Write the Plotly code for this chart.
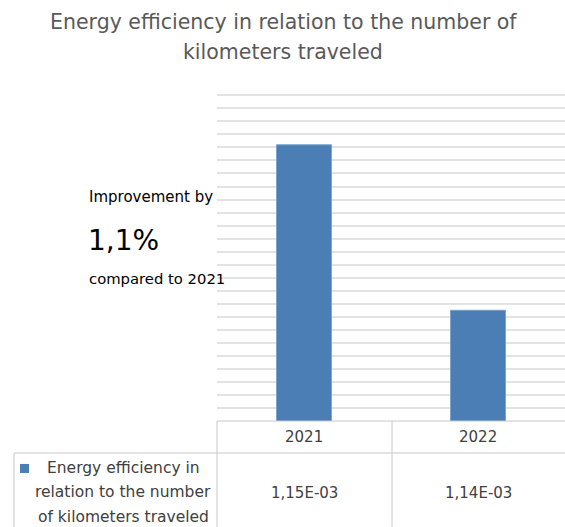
import plotly.graph_objects as go

# Data
years = ["2021", "2022"]
efficiency = [1.1492e-3, 1.1365e-3]
value_labels = ["1,15E-03", "1,14E-03"]
series_name = "Energy efficiency in relation to the number of kilometers traveled"
series_lines = ["Energy efficiency in", "relation to the number", "of kilometers traveled"]
title_lines = ["Energy efficiency in relation to the number of", "kilometers traveled"]
callout = ["Improvement by", "1,1%", "compared to 2021"]

Y_MIN, Y_MAX, Y_STEP = 1.128e-3, 1.1531e-3, 1e-6

W, H = 565, 527
ML, MR, MT, MB = 217, 0, 93.7, 106
PW, PH = W - ML - MR, H - MT - MB

def px(xp):
    return (xp - ML) / PW

def py(yp):
    return (H - MB - yp) / PH

BAR = "#4a7eb4"
GRID = "#e3e3e3"
BORDER = "#c8c8c8"
TXT = "#404040"
FONT = "DejaVu Sans"

fig = go.Figure()
fig.add_trace(go.Bar(
    x=years, y=efficiency, name=series_name, width=0.316,
    marker=dict(color=BAR, line=dict(color="#7aa3cf", width=1)),
    showlegend=False, hoverinfo="x+y",
))

shapes = []
# data table borders
def line(x0, y0, x1, y1):
    shapes.append(dict(type="line", xref="paper", yref="paper",
                       x0=px(x0), y0=py(y0), x1=px(x1), y1=py(y1),
                       line=dict(color=BORDER, width=1)))

line(217, 421, 565, 421)
line(14, 453, 565, 453)
line(217, 421, 217, 527)
line(392, 421, 392, 527)
line(14, 453, 14, 527)
# legend key
shapes.append(dict(type="rect", xref="paper", yref="paper",
                   x0=px(20), x1=px(29), y0=py(464), y1=py(473),
                   fillcolor=BAR, line=dict(width=0)))

ann = []
for i, t in enumerate(title_lines):
    ann.append(dict(text=t, xref="paper", yref="paper", x=px(283), y=py(22 + 30 * i),
                    showarrow=False, xanchor="center", yanchor="middle",
                    font=dict(family=FONT, size=20.5, color="#595959")))
for i, (yr, lab) in enumerate(zip(years, value_labels)):
    ann.append(dict(text=yr, xref="x", yref="paper", x=i, y=py(437),
                    showarrow=False, xanchor="center", yanchor="middle",
                    font=dict(family=FONT, size=15, color=TXT)))
    ann.append(dict(text=lab, xref="x", yref="paper", x=i, y=py(493),
                    showarrow=False, xanchor="center", yanchor="middle",
                    font=dict(family=FONT, size=15, color=TXT)))
for i, t in enumerate(series_lines):
    ann.append(dict(text=t, xref="paper", yref="paper", x=px(123), y=py(468 + 24.5 * i),
                    showarrow=False, xanchor="center", yanchor="middle",
                    font=dict(family=FONT, size=15.5, color=TXT)))
ann.append(dict(text=callout[0], xref="paper", yref="paper", x=px(87), y=py(197),
                showarrow=False, xanchor="left", yanchor="middle",
                font=dict(family=FONT, size=15, color="#000000")))
ann.append(dict(text=callout[1], xref="paper", yref="paper", x=px(86), y=py(240),
                showarrow=False, xanchor="left", yanchor="middle",
                font=dict(family=FONT, size=28, color="#000000")))
ann.append(dict(text=callout[2], xref="paper", yref="paper", x=px(87), y=py(278),
                showarrow=False, xanchor="left", yanchor="middle",
                font=dict(family=FONT, size=14.8, color="#000000")))

fig.update_layout(
    width=W, height=H,
    margin=dict(l=ML, r=MR, t=MT, b=MB, pad=0),
    paper_bgcolor="white", plot_bgcolor="white",
    xaxis=dict(type="category", range=[-0.5, 1.5], showticklabels=False, showgrid=False,
               zeroline=False, showline=False, ticks=""),
    yaxis=dict(range=[Y_MIN, Y_MAX], tick0=Y_MIN, dtick=Y_STEP,
               showticklabels=False, showgrid=True, gridcolor=GRID, gridwidth=1.5,
               zeroline=False, showline=False, ticks=""),
    shapes=shapes, annotations=ann, bargap=0.684,
)

fig.write_html("out.html")
